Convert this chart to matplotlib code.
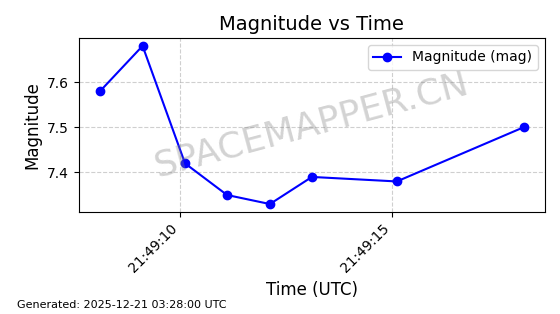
import pandas as pd
import matplotlib
matplotlib.use("Agg")
import matplotlib.pyplot as plt
import matplotlib.dates as mdates

times = [
    "2025-12-21 21:49:08.12",
    "2025-12-21 21:49:09.12",
    "2025-12-21 21:49:10.12",
    "2025-12-21 21:49:11.11",
    "2025-12-21 21:49:12.12",
    "2025-12-21 21:49:13.11",
    "2025-12-21 21:49:15.11",
    "2025-12-21 21:49:18.10",
]
magnitudes = [7.58, 7.68, 7.42, 7.35, 7.33, 7.39, 7.38, 7.50]

footer = "Generated: 2025-12-21 03:28:00 UTC"
watermark = "SPACEMAPPER.CN"

t = pd.to_datetime(times)

fig, ax = plt.subplots(figsize=(5.6, 3.14), dpi=100)
ax.plot(t, magnitudes, color="blue", marker="o", markersize=6,
        linewidth=1.5, label="Magnitude (mag)")

ax.set_title("Magnitude vs Time", fontsize=14)
ax.set_xlabel("Time (UTC)", fontsize=12)
ax.set_ylabel("Magnitude", fontsize=12)
ax.grid(True, linestyle="--", alpha=0.6)
ax.legend(loc="upper right")

ax.xaxis.set_major_locator(mdates.SecondLocator(bysecond=range(0, 60, 5)))
ax.xaxis.set_major_formatter(mdates.DateFormatter("%H:%M:%S"))
plt.setp(ax.get_xticklabels(), rotation=45, ha="right")

ax.text(0.5, 0.5, watermark, transform=ax.transAxes, fontsize=26,
        color="gray", alpha=0.35, rotation=15, ha="center", va="center")

fig.subplots_adjust(left=0.141, right=0.973, top=0.879, bottom=0.325)
fig.text(0.03, 0.02, footer, fontsize=8)

fig.savefig("out.png", dpi=100)
